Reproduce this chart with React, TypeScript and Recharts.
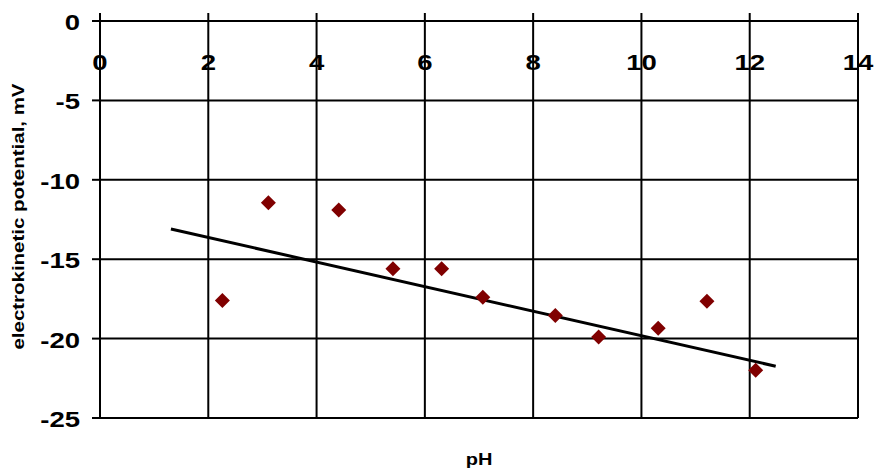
import { CartesianGrid, ComposedChart, Line, Scatter, XAxis, YAxis } from "recharts";

const phValues = [2.26, 3.11, 4.41, 5.41, 6.31, 7.07, 8.41, 9.21, 10.31, 11.21, 12.11];
const potentialValues = [-17.6, -11.45, -11.9, -15.6, -15.6, -17.4, -18.55, -19.9, -19.35, -17.65, -22.0];

// linear trend line endpoints
const trendPh = [1.31, 12.48];
const trendPotential = [-13.1, -21.74];

const xTicks = [0, 2, 4, 6, 8, 10, 12, 14];
const yTicks = [-25, -20, -15, -10, -5, 0];

const points = phValues.map((x, i) => ({ x, y: potentialValues[i] }));
const trend = trendPh.map((x, i) => ({ x, y: trendPotential[i] }));

const FONT = "'Liberation Sans', Arial, sans-serif";
const STRETCH = 1.25;

function XTick(props: any) {
  const { x, payload } = props;
  return (
    <text
      transform={`translate(${x},62) scale(${STRETCH},1)`}
      textAnchor="middle"
      dominantBaseline="central"
      fontFamily={FONT}
      fontWeight="bold"
      fontSize={22}
      fill="#000"
    >
      {payload.value}
    </text>
  );
}

function YTick(props: any) {
  const { x, y, payload } = props;
  return (
    <text
      transform={`translate(${x},${y + 1}) scale(${STRETCH},1)`}
      textAnchor="end"
      dominantBaseline="central"
      fontFamily={FONT}
      fontWeight="bold"
      fontSize={22}
      fill="#000"
    >
      {payload.value}
    </text>
  );
}

function YLabel(props: any) {
  const { viewBox } = props;
  const cy = viewBox.y + viewBox.height / 2 - 3;
  return (
    <text
      transform={`translate(18,${cy}) rotate(-90) scale(1.28,1)`}
      textAnchor="middle"
      dominantBaseline="central"
      fontFamily={FONT}
      fontWeight="bold"
      fontSize={16}
      fill="#000"
    >
      electrokinetic potential, mV
    </text>
  );
}

function Diamond(props: any) {
  const { cx, cy } = props;
  const r = 7.5;
  return (
    <polygon
      points={`${cx},${cy - r} ${cx + r},${cy} ${cx},${cy + r} ${cx - r},${cy}`}
      fill="#800000"
    />
  );
}

export default function App() {
  return (
    <div style={{ position: "absolute", left: 0, top: 0, width: 874, height: 470, background: "#fff" }}>
      <ComposedChart width={874} height={470} margin={{ top: 13, right: 16, bottom: 52, left: 0 }}>
        <CartesianGrid stroke="#000" strokeWidth={2} />
        <XAxis
          type="number"
          dataKey="x"
          orientation="top"
          domain={[0, 14]}
          ticks={xTicks}
          interval={0}
          height={8}
          tickSize={8}
          axisLine={{ stroke: "#000", strokeWidth: 2 }}
          tickLine={{ stroke: "#000", strokeWidth: 2 }}
          tick={<XTick />}
        />
        <YAxis
          type="number"
          domain={[-25, 0]}
          ticks={yTicks}
          interval={0}
          width={100}
          tickSize={8}
          tickMargin={12}
          axisLine={{ stroke: "#000", strokeWidth: 2 }}
          tickLine={{ stroke: "#000", strokeWidth: 2 }}
          tick={<YTick />}
          label={<YLabel />}
        />
        <Line
          data={trend}
          dataKey="y"
          stroke="#000"
          strokeWidth={3}
          dot={false}
          isAnimationActive={false}
        />
        <Scatter data={points} dataKey="y" shape={<Diamond />} isAnimationActive={false} />
      </ComposedChart>
      <div
        style={{
          position: "absolute",
          left: 479,
          top: 460,
          transform: `translate(-50%,-50%) scaleX(${STRETCH})`,
          fontFamily: FONT,
          fontWeight: "bold",
          fontSize: 16,
          lineHeight: "16px",
        }}
      >
        pH
      </div>
    </div>
  );
}
